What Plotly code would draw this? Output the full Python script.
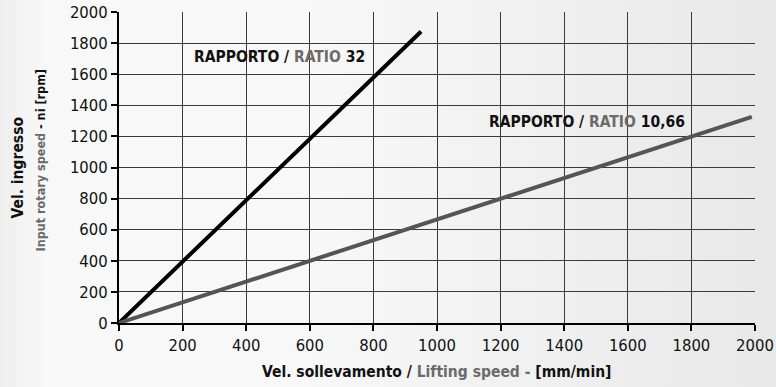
import plotly.graph_objects as go

# Lifting speed [mm/min] vs input rotary speed [rpm] for the two ratios
speed_r32 = [0, 950]
rpm_r32 = [0, 1875]
speed_r1066 = [0, 1990]
rpm_r1066 = [0, 1325]

x_ticks = [0, 200, 400, 600, 800, 1000, 1200, 1400, 1600, 1800, 2000]
y_ticks = [0, 200, 400, 600, 800, 1000, 1200, 1400, 1600, 1800, 2000]

GRAY_TXT = "#6b6b6b"
label_r32 = f"<b>RAPPORTO / <span style='color:{GRAY_TXT}'>RATIO</span> 32</b>"
label_r1066 = f"<b>RAPPORTO / <span style='color:{GRAY_TXT}'>RATIO</span> 10,66</b>"
label_r32_pos = (505, 1708)
label_r1066_pos = (1472, 1292)

x_title = f"<b>Vel. sollevamento / <span style='color:{GRAY_TXT}'>Lifting speed -</span> [mm/min]</b>"
y_title_1 = "<b>Vel. ingresso</b>"
y_title_2 = f"<b><span style='color:{GRAY_TXT}'>Input rotary speed</span> - ni [rpm]</b>"

FONT = "Liberation Sans Narrow, DejaVu Sans Condensed, Arial Narrow, sans-serif"
W, H = 776, 387
ML, MR, MT, MB = 119, 21, 12, 64
PW, PH = W - ML - MR, H - MT - MB

fig = go.Figure()
fig.add_trace(go.Scatter(x=speed_r32, y=rpm_r32, mode="lines",
                         line=dict(color="#000000", width=4), showlegend=False,
                         hoverinfo="skip"))
fig.add_trace(go.Scatter(x=speed_r1066, y=rpm_r1066, mode="lines",
                         line=dict(color="#555555", width=4), showlegend=False,
                         hoverinfo="skip"))


def px_x(px):
    return (px - ML) / PW


def px_y(py):
    return 1 - (py - MT) / PH


annotations = [
    dict(xref="x", yref="y", x=label_r32_pos[0], y=label_r32_pos[1], text=label_r32,
         showarrow=False, font=dict(family=FONT, size=15.5, color="#111111"),
         xanchor="center", yanchor="middle"),
    dict(xref="x", yref="y", x=label_r1066_pos[0], y=label_r1066_pos[1], text=label_r1066,
         showarrow=False, font=dict(family=FONT, size=15.5, color="#111111"),
         xanchor="center", yanchor="middle"),
    dict(xref="paper", yref="paper", x=px_x(17.5), y=px_y(168),
         text=y_title_1, textangle=-90, showarrow=False,
         font=dict(family=FONT, size=15.5, color="#111111"), xanchor="center", yanchor="middle"),
    dict(xref="paper", yref="paper", x=px_x(39.5), y=px_y(160),
         text=y_title_2, textangle=-90, showarrow=False,
         font=dict(family=FONT, size=12.5, color="#111111"), xanchor="center", yanchor="middle"),
    dict(xref="paper", yref="paper", x=px_x(436), y=px_y(372),
         text=x_title, showarrow=False,
         font=dict(family=FONT, size=15.5, color="#111111"), xanchor="center", yanchor="middle"),
]

axis_common = dict(
    showline=True, linecolor="#000000", linewidth=2,
    showgrid=True, gridcolor="#3a3a3a", gridwidth=1,
    ticks="outside", ticklen=6, tickwidth=2, tickcolor="#000000",
    tickfont=dict(family=FONT, size=16.5, color="#111111"),
    zeroline=False, fixedrange=True, automargin=False,
)

fig.update_layout(
    width=W, height=H,
    margin=dict(l=ML, r=MR, t=MT, b=MB),
    paper_bgcolor="rgba(0,0,0,0)", plot_bgcolor="rgba(0,0,0,0)",
    annotations=annotations,
    xaxis=dict(range=[0, 2000], tickvals=x_ticks, **axis_common),
    yaxis=dict(range=[0, 2000], tickvals=y_ticks, **axis_common),
)

# light grey page gradient showing through the transparent figure background
page_bg = ("document.documentElement.style.background="
           "'linear-gradient(to right, #eeeeee 0px, #f8f8f8 45px, #f8f8f8 300px, #e8e8e8 776px)';"
           "document.body.style.margin='0';document.body.style.background='transparent';")

fig.write_html("out.html", post_script=page_bg)
